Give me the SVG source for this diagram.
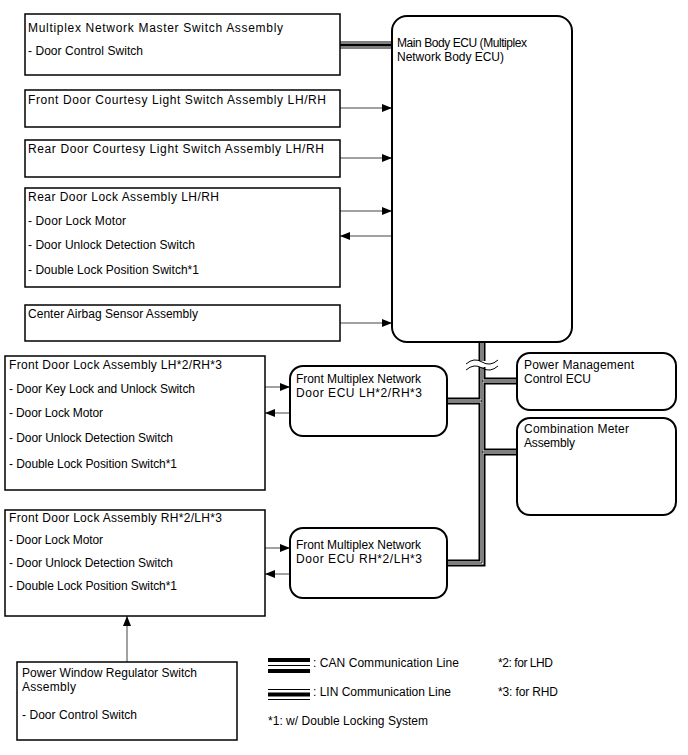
<svg xmlns="http://www.w3.org/2000/svg" width="688" height="755" viewBox="0 0 688 755">
<defs>
<marker id="ah" viewBox="0 0 10 8" refX="10" refY="4" markerWidth="10" markerHeight="8" markerUnits="userSpaceOnUse" orient="auto">
<path d="M0,0 L10,4 L0,8 Z" fill="#000"/>
</marker>
<style>
text{font-family:"Liberation Sans",Arial,sans-serif;font-size:12px;fill:#000}
.box{fill:#fff;stroke:#000;stroke-width:1.5}
.rbox{fill:#fff;stroke:#000;stroke-width:2}
.arr{stroke:#444;stroke-width:1;fill:none;marker-end:url(#ah)}
.b1{fill:none;stroke:#000;stroke-width:7;stroke-linejoin:miter;stroke-linecap:butt}
.b2{fill:none;stroke:#fff;stroke-width:3;stroke-linejoin:miter;stroke-linecap:butt}
.b3{fill:none;stroke:#000;stroke-width:1;stroke-linejoin:miter;stroke-linecap:butt}
</style>
</defs>
<rect width="688" height="755" fill="#fff"/>

<g id="connectors">
<line x1="340" y1="45" x2="392" y2="45" stroke="#000" stroke-width="7"/>
<line x1="340" y1="45" x2="392" y2="45" stroke="#fff" stroke-width="5"/>
<line x1="340" y1="45" x2="392" y2="45" stroke="#000" stroke-width="3"/>
<line class="arr" x1="340" y1="108" x2="392" y2="108"/>
<line class="arr" x1="340" y1="158" x2="392" y2="158"/>
<line class="arr" x1="340" y1="211" x2="392" y2="211"/>
<line class="arr" x1="392" y1="236" x2="340" y2="236"/>
<line class="arr" x1="340" y1="323" x2="392" y2="323"/>
<line class="arr" x1="265" y1="387" x2="290" y2="387"/>
<line class="arr" x1="290" y1="413" x2="265" y2="413"/>
<line class="arr" x1="265" y1="548" x2="290" y2="548"/>
<line class="arr" x1="290" y1="574" x2="265" y2="574"/>
<line class="arr" x1="127" y1="662" x2="127" y2="616"/>
<g>
<path class="b1" d="M482,342 V563 H447 M482,381 H517 M482,401 H447 M482,452 H517"/>
<path class="b2" d="M482,342 V563 H447 M482,381 H517 M482,401 H447 M482,452 H517"/>
<path class="b3" d="M482,342 V563 H447 M482,381 H517 M482,401 H447 M482,452 H517"/>
</g>
<rect x="474" y="361" width="16" height="6" fill="#fff"/>
<path d="M466,364 q8,-7 16,-2 q8,5 16,-2" fill="none" stroke="#000" stroke-width="1"/>
<path d="M466,370 q8,-7 16,-2 q8,5 16,-2" fill="none" stroke="#000" stroke-width="1"/>
</g>

<g id="master-switch">
<rect class="box" x="25" y="14" width="315" height="61"/>
<text x="28" y="32" textLength="255">Multiplex Network Master Switch Assembly</text>
<text x="28" y="55" textLength="115">- Door Control Switch</text>
</g>
<g id="front-courtesy">
<rect class="box" x="25" y="90" width="315" height="37"/>
<text x="28" y="104" textLength="298">Front Door Courtesy Light Switch Assembly LH/RH</text>
</g>
<g id="rear-courtesy">
<rect class="box" x="25" y="140" width="315" height="37"/>
<text x="28" y="153" textLength="296">Rear Door Courtesy Light Switch Assembly LH/RH</text>
</g>
<g id="rear-door-lock">
<rect class="box" x="25" y="188" width="315" height="99"/>
<text x="28" y="201" textLength="191">Rear Door Lock Assembly LH/RH</text>
<text x="28" y="225" textLength="98">- Door Lock Motor</text>
<text x="28" y="249" textLength="167">- Door Unlock Detection Switch</text>
<text x="28" y="274" textLength="171">- Double Lock Position Switch*1</text>
</g>
<g id="airbag">
<rect class="box" x="25" y="305" width="315" height="36"/>
<text x="28" y="318" textLength="170">Center Airbag Sensor Assembly</text>
</g>
<g id="main-body-ecu">
<rect class="rbox" x="392" y="16" width="180" height="326" rx="15"/>
<text x="397" y="47" textLength="130">Main Body ECU (Multiplex</text>
<text x="397" y="61" textLength="107">Network Body ECU)</text>
</g>
<g id="power-management">
<rect class="rbox" x="517" y="353" width="159" height="57" rx="13"/>
<text x="524" y="369" textLength="110">Power Management</text>
<text x="524" y="383" textLength="67">Control ECU</text>
</g>
<g id="combination-meter">
<rect class="rbox" x="517" y="418" width="159" height="97" rx="13"/>
<text x="524" y="433" textLength="105">Combination Meter</text>
<text x="524" y="447" textLength="51">Assembly</text>
</g>
<g id="front-door-lock-lh">
<rect class="box" x="5" y="356" width="260" height="134"/>
<text x="9" y="369" textLength="213">Front Door Lock Assembly LH*2/RH*3</text>
<text x="9" y="393" textLength="186">- Door Key Lock and Unlock Switch</text>
<text x="9" y="417" textLength="94">- Door Lock Motor</text>
<text x="9" y="442" textLength="164">- Door Unlock Detection Switch</text>
<text x="9" y="468" textLength="168">- Double Lock Position Switch*1</text>
</g>
<g id="front-ecu-lh">
<rect class="rbox" x="290" y="366" width="157" height="70" rx="13"/>
<text x="296" y="383" textLength="125">Front Multiplex Network</text>
<text x="296" y="397" textLength="126">Door ECU LH*2/RH*3</text>
</g>
<g id="front-door-lock-rh">
<rect class="box" x="5" y="510" width="260" height="106"/>
<text x="9" y="522" textLength="213">Front Door Lock Assembly RH*2/LH*3</text>
<text x="9" y="544" textLength="94">- Door Lock Motor</text>
<text x="9" y="567" textLength="164">- Door Unlock Detection Switch</text>
<text x="9" y="590" textLength="168">- Double Lock Position Switch*1</text>
</g>
<g id="front-ecu-rh">
<rect class="rbox" x="290" y="528" width="157" height="70" rx="13"/>
<text x="296" y="549" textLength="125">Front Multiplex Network</text>
<text x="296" y="563" textLength="126">Door ECU RH*2/LH*3</text>
</g>
<g id="power-window">
<rect class="box" x="17" y="662" width="220" height="78"/>
<text x="22" y="677" textLength="175">Power Window Regulator Switch</text>
<text x="22" y="691" textLength="54">Assembly</text>
<text x="22" y="719" textLength="115">- Door Control Switch</text>
</g>

<g id="legend">
<line x1="268" y1="665.5" x2="310" y2="665.5" stroke="#000" stroke-width="15"/>
<line x1="268" y1="665.5" x2="310" y2="665.5" stroke="#fff" stroke-width="7"/>
<line x1="268" y1="665.5" x2="310" y2="665.5" stroke="#000" stroke-width="1"/>
<text x="313" y="667" textLength="146">: CAN Communication Line</text>
<line x1="268" y1="694.5" x2="310" y2="694.5" stroke="#000" stroke-width="11"/>
<line x1="268" y1="694.5" x2="310" y2="694.5" stroke="#fff" stroke-width="9"/>
<line x1="268" y1="694.5" x2="310" y2="694.5" stroke="#000" stroke-width="4"/>
<text x="313" y="696" textLength="138">: LIN Communication Line</text>
<text x="268" y="725" textLength="160">*1: w/ Double Locking System</text>
<text x="498" y="667" textLength="55">*2: for LHD</text>
<text x="498" y="696" textLength="60">*3: for RHD</text>
</g>
</svg>
